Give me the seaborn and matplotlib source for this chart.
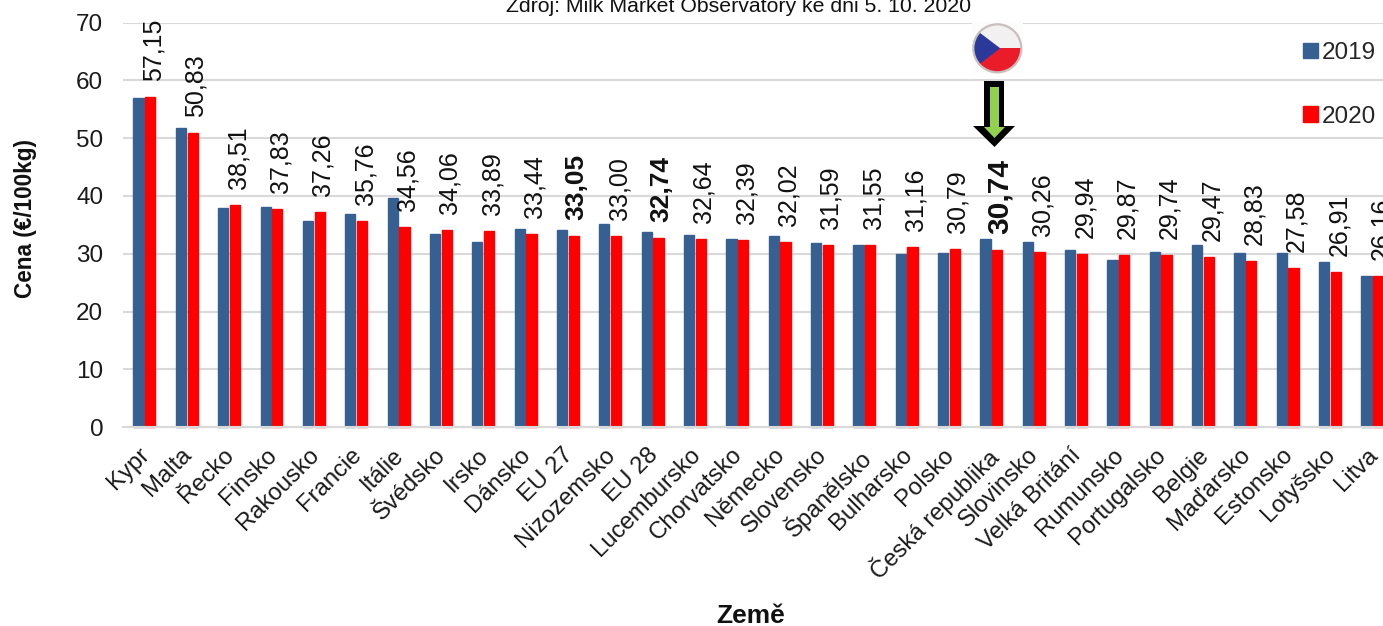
import matplotlib
matplotlib.use("Agg")
import matplotlib.pyplot as plt
import matplotlib.patches as mp
from matplotlib.transforms import ScaledTranslation
import pandas as pd
import seaborn as sns

countries = ["Kypr","Malta","Řecko","Finsko","Rakousko","Francie","Itálie","Švédsko","Irsko","Dánsko",
             "EU 27","Nizozemsko","EU 28","Lucembursko","Chorvatsko","Německo","Slovensko","Španělsko",
             "Bulharsko","Polsko","Česká republika","Slovinsko","Velká Britání","Rumunsko","Portugalsko",
             "Belgie","Maďarsko","Estonsko","Lotyšsko","Litva"]
values_2019 = [57.0,51.7,38.0,38.1,35.6,36.9,39.6,33.5,32.0,34.3,34.1,35.1,33.8,33.2,32.5,33.1,31.8,31.5,
               30.0,30.2,32.5,32.1,30.6,29.0,30.3,31.5,30.2,30.2,28.5,26.2]
values_2020 = [57.15,50.83,38.51,37.83,37.26,35.76,34.56,34.06,33.89,33.44,33.05,33.00,32.74,32.64,32.39,
               32.02,31.59,31.55,31.16,30.79,30.74,30.26,29.94,29.87,29.74,29.47,28.83,27.58,26.91,26.16]
bold_labels = {"EU 27": 19, "EU 28": 19, "Česká republika": 21.5}
y_ticks = [0,10,20,30,40,50,60,70]

sns.set_theme(style="white")
plt.rcParams["font.family"] = ["Liberation Sans", "DejaVu Sans"]

W, H = 1383, 626
fig = plt.figure(figsize=(W/100, H/100), dpi=100)
ax = fig.add_axes([123.3/W, 1-427.3/H, (W-123.3)/W, 404.8/H])

df = pd.DataFrame({"Země": countries*2,
                   "Cena": values_2019+values_2020,
                   "Rok": ["2019"]*30+["2020"]*30})
sns.barplot(data=df, x="Země", y="Cena", hue="Rok", palette={"2019":"#376092","2020":"#FF0000"},
            width=0.555, gap=0.13, saturation=1, ax=ax, zorder=3, errorbar=None)
for p in ax.patches:
    p.set_edgecolor(p.get_facecolor())
    p.set_linewidth(1.0)
    p.set_clip_on(False)

ax.set_xlim(-0.5, 29.25)
ax.set_ylim(0, 70)
ax.set_yticks(y_ticks)
ax.yaxis.grid(True, color="#D9D9D9", linewidth=1.5, zorder=0)
ax.set_axisbelow(True)
for s in ("top","right","left"):
    ax.spines[s].set_visible(False)
ax.spines["bottom"].set_color("#D9D9D9")
ax.spines["bottom"].set_linewidth(1.5)
ax.spines["bottom"].set_zorder(4)
ax.tick_params(axis="y", length=0, labelsize=17.5, labelcolor="#1a1a1a", pad=14.5)
ax.tick_params(axis="x", length=0, labelsize=17.2, labelcolor="#1a1a1a", pad=12)
shift = ScaledTranslation(-6/100, 0, fig.dpi_scale_trans)
for lab in ax.get_xticklabels():
    lab.set_rotation(45)
    lab.set_ha("right")
    lab.set_rotation_mode("anchor")
    lab.set_transform(lab.get_transform() + shift)

for i, (c, v) in enumerate(zip(countries, values_2020)):
    bold = c in bold_labels
    ax.annotate(f"{v:.2f}".replace(".", ","), xy=(i+0.15, v), xytext=(1.8, 11.5),
                textcoords="offset points", rotation=90, ha="center", va="bottom",
                fontsize=bold_labels.get(c, 18), fontweight="bold" if bold else "normal",
                color="#111111", annotation_clip=False, zorder=5)

ax.set_xlabel("")
ax.set_ylabel("")
fig.text(26/W, 1-218/H, "Cena (€/100kg)", rotation=90, ha="center", va="center",
         fontsize=16.3, fontweight="bold", color="#111111")
fig.text(751/W, 1-616/H, "Země", ha="center", va="center", fontsize=19, fontweight="bold", color="#111111")
fig.text(738.5/W, 1-6/H, "Zdroj: Milk Market Observatory ke dni 5. 10. 2020", ha="center", va="center",
         fontsize=15.3, color="#111111")

handles, labels = ax.get_legend_handles_labels()
ax.legend(handles, labels, loc="upper left", bbox_to_anchor=(1303/W, 1-42/H), bbox_transform=fig.transFigure,
          frameon=False, fontsize=17.5, handlelength=0.6, handleheight=0.6, handletextpad=0.16,
          labelspacing=1.71, borderpad=0, borderaxespad=0)

# flag and arrow overlay in pixel coordinates
ov = fig.add_axes([0,0,1,1], zorder=10)
ov.set_xlim(0, W); ov.set_ylim(H, 0); ov.axis("off"); ov.patch.set_alpha(0)
ov.add_patch(mp.Rectangle((971.7, 21.7), 51, 52.3, fc="#FCFCFA", ec="none"))
cx, cy, r = 997.3, 48.3, 24.5
circ = mp.Circle((cx, cy), r, transform=ov.transData, fc="none", ec="none")
ov.add_patch(circ)
white = mp.Rectangle((cx-r, cy-r), 2*r, r, fc="#F2F0F0", ec="none"); ov.add_patch(white); white.set_clip_path(circ)
red = mp.Rectangle((cx-r, cy), 2*r, r, fc="#EA1C2A", ec="none"); ov.add_patch(red); red.set_clip_path(circ)
blue = mp.Polygon([(cx-r, cy-r*0.85),(cx+3, cy),(cx-r, cy+r*0.85)], fc="#2B3A9A", ec="none"); ov.add_patch(blue); blue.set_clip_path(circ)
ov.add_patch(mp.Circle((cx, cy), r-0.5, fc="none", ec="#C9BFBF", lw=1.6))
outer = [(984,81),(1004,81),(1004,126),(1015,126),(994.5,147),(973,126),(984,126)]
inner = [(990,87),(999,87),(999,127),(1005,127),(994.5,138),(984,127),(990,127)]
ov.add_patch(mp.Polygon(outer, closed=True, fc="black", ec="none"))
ov.add_patch(mp.Polygon(inner, closed=True, fc="#92D050", ec="none"))

fig.savefig("out.png", dpi=100)
